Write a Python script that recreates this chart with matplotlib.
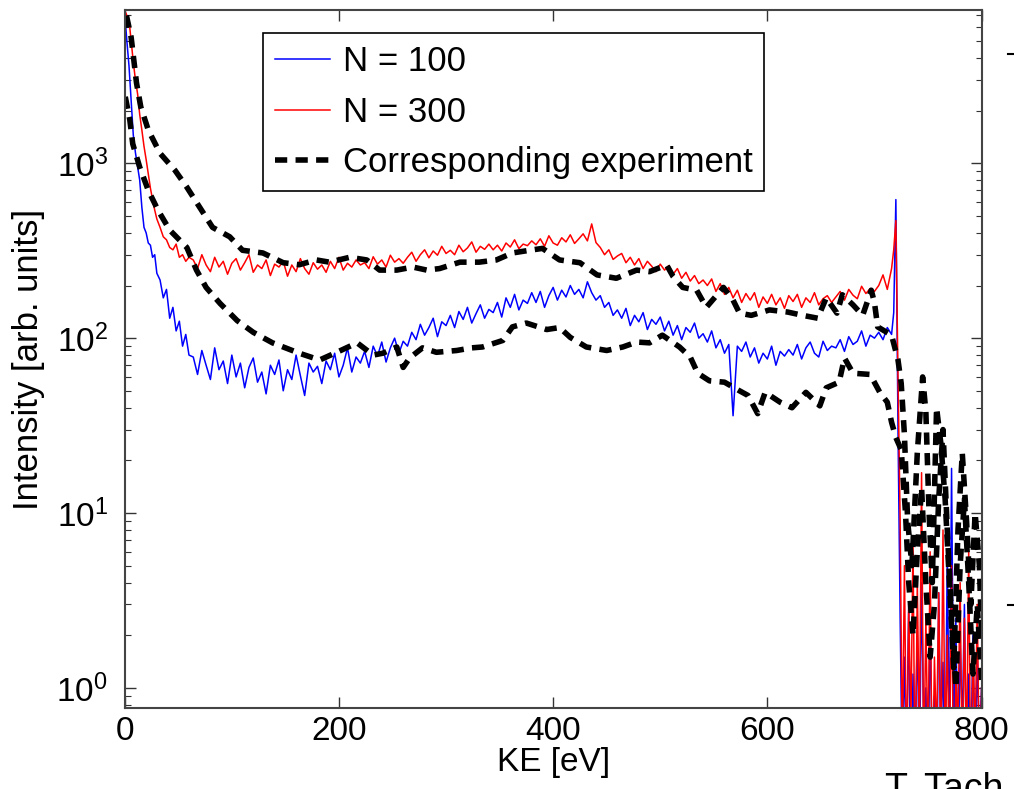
import numpy as np
import matplotlib
matplotlib.use("Agg")
import matplotlib.pyplot as plt
from matplotlib.lines import Line2D

plt.rcParams['font.family'] = ['Liberation Sans', 'DejaVu Sans']
plt.rcParams['mathtext.default'] = 'regular'

# simulation grid (eV)
ke_head = [0, 2, 4, 6, 8, 10, 12, 14, 16, 18, 20, 22, 24, 26, 28, 30,
           33, 36, 39, 42, 45, 48, 51, 54, 57, 60]
ke_body = np.arange(64, 717, 4)
ke_peak = [718, 720, 722]
ke_tail = np.arange(724, 801, 2)

# N = 100
n100_head = [7200, 5000, 3600, 2300, 1450, 1150, 960, 800, 560, 430, 400, 350, 340,
             290, 300, 235, 215, 170, 190, 130, 150, 110, 125, 90, 105, 80]
n100_body = [78, 62, 85, 70, 58, 88, 66, 74, 55, 80,
             60, 72, 52, 68, 77, 56, 64, 48, 70, 62,
             75, 50, 66, 58, 80, 61, 47, 72, 64, 69,
             55, 74, 66, 82, 60, 70, 88, 64, 78, 72,
             84, 68, 90, 79, 95, 73, 88, 100, 82, 96,
             90, 108, 98, 120, 104, 115, 130, 102, 124, 118,
             135, 115, 142, 128, 150, 122, 138, 155, 130, 146,
             140, 160, 132, 170, 150, 178, 145, 165, 158, 182,
             160, 185, 150, 175, 195, 165, 188, 172, 200, 178,
             190, 170, 210, 182, 165, 175, 150, 160, 135, 145,
             130, 148, 118, 135, 124, 140, 112, 128, 120, 132,
             110, 125, 104, 118, 98, 115, 108, 122, 100, 106,
             95, 110, 88, 98, 82, 92, 36, 90, 84, 95,
             78, 88, 72, 82, 76, 90, 70, 84, 79, 86,
             80, 92, 76, 88, 95, 82, 78, 96, 85, 90,
             88, 98, 84, 102, 92, 96, 110, 90, 104, 100,
             108, 98, 115, 105]
n100_peak = [140, 620, 30]
n100_tail = [2.5, 0.3, 1.5, 0.4, 3.0, 0.2, 1.2, 0.5, 2.0, 0.3,
             4.0, 0.6, 1.0, 0.3, 2.2, 0.4, 0.9, 0.2, 3.5, 0.5,
             1.4, 0.3, 6.0, 0.4, 18, 0.5, 2.5, 0.3, 1.8, 0.6,
             3.0, 0.3, 1.2, 0.4, 2.0, 0.3, 1.5, 0.5, 1.0]

# N = 300
n300_head = [7500, 7000, 6600, 5000, 3800, 3000, 2500, 1900, 1550, 1250, 1050, 870, 720,
             620, 540, 480, 430, 380, 365, 330, 320, 345, 290, 300, 275, 290]
n300_body = [280, 250, 300, 262, 240, 290, 255, 275, 232, 268,
             285, 245, 270, 300, 238, 262, 250, 280, 228, 265,
             255, 275, 226, 262, 240, 285, 250, 232, 270, 248,
             262, 238, 275, 250, 290, 245, 268, 255, 280, 262,
             270, 250, 292, 265, 280, 255, 298, 272, 285, 268,
             290, 310, 275, 300, 320, 288, 315, 298, 335, 305,
             318, 300, 340, 312, 328, 355, 310, 335, 322, 345,
             320, 340, 315, 350, 332, 365, 325, 345, 338, 360,
             342, 370, 335, 385, 350, 340, 375, 355, 390, 348,
             370, 395, 360, 450, 352, 330, 300, 320, 282, 295,
             305, 270, 290, 262, 285, 250, 275, 258, 240, 265,
             245, 260, 232, 250, 220, 238, 212, 228, 205, 215,
             200, 218, 185, 205, 178, 195, 170, 188, 160, 180,
             165, 182, 150, 172, 158, 178, 155, 170, 148, 175,
             162, 178, 150, 170, 160, 182, 155, 168, 175, 160,
             172, 185, 165, 190, 176, 168, 198, 180, 192, 185,
             200, 230, 190, 250]
n300_peak = [320, 470, 60]
n300_tail = [9, 0.4, 5, 0.3, 3, 0.6, 7, 0.2, 4, 0.5,
             17, 0.3, 2.5, 0.4, 6, 0.2, 1.5, 0.5, 3.5, 0.3,
             8, 0.4, 2.0, 0.3, 5, 0.2, 1.2, 0.6, 4, 0.3,
             2.5, 0.4, 6, 0.2, 1.8, 0.5, 3, 0.3, 1.0]

# experiment matching N = 300
exp300_ke = [1.6, 6, 11, 15, 22, 33, 47, 58, 70, 82, 98, 110, 129, 148, 163, 179, 191,
             210, 226, 238, 254, 269, 282, 294, 313, 331, 347, 362, 378, 390, 406, 425,
             441, 459, 478, 490, 506, 512, 521, 534, 543, 559, 568, 574, 585, 602, 619,
             633, 647, 655, 665, 670, 680, 689, 697, 700, 703, 716, 722, 725,
             728, 731, 735, 740, 745, 748, 751, 754, 758, 762, 766, 770, 774, 778,
             782, 786, 790, 794, 798, 800]
exp300_val = [7000, 5250, 2880, 2100, 1550, 1140, 910, 730, 560, 430, 380, 318, 307, 270,
              263, 280, 272, 290, 280, 245, 245, 255, 245, 250, 272, 272, 280, 307, 318,
              326, 280, 270, 230, 220, 245, 240, 262, 225, 195, 188, 150, 195, 165, 139,
              135, 145, 141, 135, 130, 170, 139, 177, 155, 135, 188, 160, 116, 104, 75, 55,
              28, 9, 5, 22, 60, 38, 10, 4, 40, 25, 12, 4, 1.3, 8, 22, 9, 3, 10, 5, 2]

# experiment matching N = 100
exp100_ke = [0.5, 4.7, 7.5, 14, 22, 31, 42, 58, 67, 76, 89, 105, 120, 138, 148, 163, 182,
             198, 217, 232, 241, 254, 260, 266, 278, 291, 310, 324, 334, 353, 362, 375,
             394, 406, 416, 431, 450, 465, 478, 490, 502, 518, 528, 535, 546, 560, 574,
             582, 591, 598, 612, 623, 636, 649, 655, 667, 672, 680, 696, 705, 712, 716,
             720, 725,
             729, 732, 736, 740, 744, 748, 752, 756, 760, 764, 768, 772, 776, 780, 784,
             788, 792, 796, 800]
exp100_val = [2400, 1780, 1290, 950, 700, 540, 415, 330, 245, 195, 158, 126, 108, 94, 89,
              82, 75, 83, 94, 80, 82, 89, 68, 77, 88, 83, 85, 88, 89, 97, 116, 122, 112,
              115, 101, 89, 85, 89, 95, 94, 104, 89, 78, 63, 57, 56, 50, 47, 37, 49, 43,
              40, 49, 41, 52, 56, 77, 63, 62, 49, 43, 33, 27, 23,
              10, 4, 2, 6, 14, 4, 1.5, 3, 12, 30, 8, 2.5, 1, 5, 12, 4, 1.2, 3, 1.1]

ke_sim = np.concatenate([ke_head, ke_body, ke_peak, ke_tail])
n100 = np.concatenate([n100_head, n100_body, n100_peak, n100_tail])
n300 = np.concatenate([n300_head, n300_body, n300_peak, n300_tail])

fig = plt.figure(figsize=(10.14, 7.89), dpi=100)
ax = fig.add_axes([0.123, 0.103, 0.845, 0.884])

ax.plot(ke_sim, n100, color='blue', lw=1.1, label='N = 100')
ax.plot(ke_sim, n300, color='red', lw=1.1, label='N = 300')
dash = (0, (2.2, 1.5))
ax.plot(exp300_ke, exp300_val, color='black', lw=4, linestyle=dash,
        label='Corresponding experiment')
ax.plot(exp100_ke, exp100_val, color='black', lw=4, linestyle=dash)

ax.set_yscale('log')
ax.set_xlim(0, 800)
ax.set_ylim(0.77, 7500)
ax.set_xticks([0, 200, 400, 600, 800])
ax.set_yticks([1, 10, 100, 1000])
ax.set_yticklabels(['$10^0$', '$10^1$', '$10^2$', '$10^3$'])
ax.tick_params(direction='in', top=True, right=True, which='both',
               labelsize=24, colors='#333333', labelcolor='black')
ax.tick_params(which='major', length=8, width=1)
ax.tick_params(axis='x', pad=6)
ax.tick_params(axis='y', pad=12)
ax.tick_params(which='minor', length=4, width=0.8)
for s in ax.spines.values():
    s.set_linewidth(1.5)
    s.set_color('#444444')

ax.set_xlabel('KE [eV]', fontsize=24, labelpad=0)
ax.set_ylabel('Intensity [arb. units]', fontsize=25, labelpad=8)

leg = ax.legend(loc='upper left', bbox_to_anchor=(0.161, 0.967), fontsize=25,
                frameon=True, fancybox=False, edgecolor='black', framealpha=1,
                handlelength=1.6, handletextpad=0.35, labelspacing=0.5,
                borderpad=0.35, borderaxespad=0)
leg.get_frame().set_linewidth(1.2)

# bits of the neighbouring panel cut off at the right edge
fig.text(0.873, -0.014, 'T. Tach', fontsize=27, ha='left', va='baseline')
fig.add_artist(Line2D([0.994, 1.0], [0.932, 0.932], color='black', lw=1.5))
fig.add_artist(Line2D([0.994, 1.0], [0.233, 0.233], color='black', lw=1.5))

fig.savefig('out.png', dpi=100)
